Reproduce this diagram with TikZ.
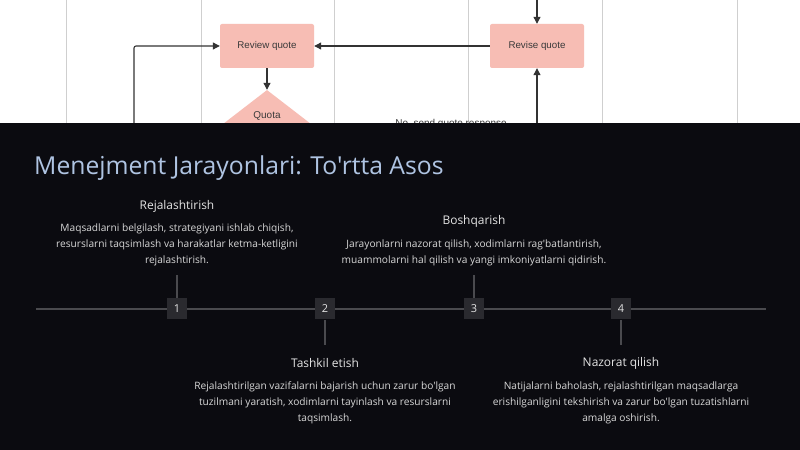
\documentclass[tikz,border=0pt]{standalone}
\usepackage{fontspec}
\setmainfont{Open Sans}[Ligatures=TeXOff]
\newfontfamily\flowfont{Liberation Sans}[Ligatures=TeXOff]
\usetikzlibrary{arrows.meta,shapes.geometric}
\definecolor{panelbg}{HTML}{0B0B10}
\definecolor{lanegray}{HTML}{CFCFCF}
\definecolor{flowpink}{HTML}{F7BDB4}
\definecolor{flowtext}{HTML}{3A3A3A}
\definecolor{titleblue}{HTML}{AFC4E2}
\definecolor{headgray}{HTML}{E4E4E4}
\definecolor{descgray}{HTML}{D8D8D8}
\definecolor{linegray}{HTML}{4A4A4E}
\definecolor{markerbg}{HTML}{2A2A2F}
\tikzset{
  lane/.style={draw=lanegray, line width=0.8bp},
  flowbox/.style={fill=flowpink, rounded corners=2bp, minimum width=94bp, minimum height=44bp, inner sep=0pt, font=\flowfont\fontsize{9.8}{11}\selectfont, text=flowtext},
  conn/.style={draw=black!80, line width=1.1bp, rounded corners=2bp, -{Triangle[length=7bp,width=7bp]}},
  flowlabel/.style={font=\flowfont\fontsize{10}{11}\selectfont, text=flowtext, inner sep=0pt},
  tline/.style={draw=linegray, line width=1.2bp},
  tickline/.style={draw=linegray, line width=1.2bp},
  marker/.style={fill=markerbg, minimum width=20bp, minimum height=21bp, inner sep=0pt, text=headgray, font=\fontsize{11}{12}\selectfont},
  headtext/.style={text=headgray, font=\fontsize{12}{14}\selectfont, inner sep=0pt},
  desctext/.style={text=descgray, font=\fontsize{10.2}{16}\selectfont, align=center, inner sep=0pt},
}
\begin{document}
\begin{tikzpicture}[x=1bp,y=-1bp]
\useasboundingbox (0,0) rectangle (800,450);
\fill[white] (0,0) rectangle (800,450);
% swimlanes
\foreach \lx in {66,201,334,468,602,737} {\draw[lane] (\lx,0) -- (\lx,124);}
% flow nodes
\node[flowbox] (review) at (267,46) {Review quote};
\node[flowbox] (revise) at (537,46) {Revise quote};
\node[diamond, fill=flowpink, minimum width=140bp, minimum height=108bp, inner sep=0pt] (quota) at (267,144) {};
\node[flowlabel] (quotatext) at (267,116) {Quota};
\coordinate (cleft) at (134,130);
\coordinate (rtop) at (537,-2);
\coordinate (rbot) at (537,130);
\draw[conn] (cleft) |- (review.west);
\draw[conn] (revise.west) -- (review.east);
\draw[conn] (review.south) -- (quota.north);
\draw[conn] (rtop) -- (revise.north);
\draw[conn] (rbot) -- (revise.south);
\node[flowlabel] (nolabel) at (451,124) {No, send quote response};
% dark panel
\fill[panelbg] (0,123) rectangle (800,450);
\node[anchor=west, text=titleblue, font=\fontsize{24.8}{28}\selectfont, inner sep=0pt] (title) at (34,168) {Menejment Jarayonlari: To'rtta Asos};
% timeline
\coordinate (tl) at (36,309);
\coordinate (tr) at (766,309);
\draw[tline] (tl) -- (tr);
\node[marker] (m1) at (177,309) {1};
\node[marker] (m2) at (325,309) {2};
\node[marker] (m3) at (474,309) {3};
\node[marker] (m4) at (621,309) {4};
\coordinate (t1) at (177,275);
\coordinate (t2) at (325,345);
\coordinate (t3) at (474,275);
\coordinate (t4) at (621,345);
\draw[tickline] (t1) -- (m1.north);
\draw[tickline] (t2) -- (m2.south);
\draw[tickline] (t3) -- (m3.north);
\draw[tickline] (t4) -- (m4.south);
% texts
\node[headtext] (h1) at (177,206) {Rejalashtirish};
\node[desctext] (d1) at (177,244.5) {Maqsadlarni belgilash, strategiyani ishlab chiqish,\\resurslarni taqsimlash va harakatlar ketma-ketligini\\rejalashtirish.};
\node[headtext] (h3) at (474,221) {Boshqarish};
\node[desctext] (d3) at (474,252.5) {Jarayonlarni nazorat qilish, xodimlarni rag'batlantirish,\\muammolarni hal qilish va yangi imkoniyatlarni qidirish.};
\node[headtext] (h2) at (325,363) {Tashkil etish};
\node[desctext] (d2) at (325,402.5) {Rejalashtirilgan vazifalarni bajarish uchun zarur bo'lgan\\tuzilmani yaratish, xodimlarni tayinlash va resurslarni\\taqsimlash.};
\node[headtext] (h4) at (621,363) {Nazorat qilish};
\node[desctext] (d4) at (621,402.5) {Natijalarni baholash, rejalashtirilgan maqsadlarga\\erishilganligini tekshirish va zarur bo'lgan tuzatishlarni\\amalga oshirish.};
\end{tikzpicture}
\end{document}
